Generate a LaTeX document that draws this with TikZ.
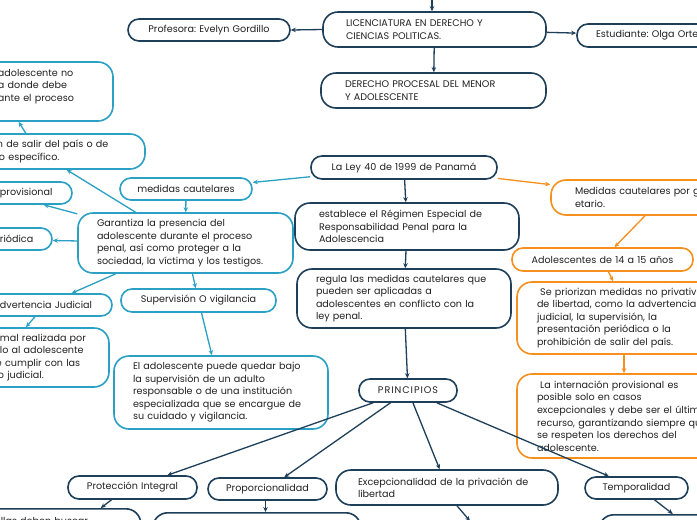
\documentclass[tikz,border=0pt]{standalone}
\usepackage{fontspec}
\setmainfont{Poppins}
\usetikzlibrary{arrows.meta,calc}
\definecolor{cnavy}{HTML}{1E3F5A}
\definecolor{cteal}{HTML}{2AA0C4}
\definecolor{corange}{HTML}{F5901E}
\definecolor{ctext}{HTML}{222222}
\newcommand{\fs}{\fontsize{9.6}{12.5}\selectfont\frenchspacing}
\tikzset{
  bx/.style={draw, rounded corners=11pt, line width=1.6pt, inner ysep=0pt, text=ctext, font=\fs, fill=white},
  tall/.style={rounded corners=15pt},
  nv/.style={bx, draw=cnavy},
  tl/.style={bx, draw=cteal},
  ob/.style={bx, draw=corange},
  arr/.style={-{Stealth[length=5pt,width=4.5pt]}, line width=1.3pt},
  arrnavy/.style={arr, draw=cnavy},
  arrteal/.style={arr, draw=cteal},
  arrorange/.style={arr, draw=corange},
}
\begin{document}
\begin{tikzpicture}[x=1pt,y=-1pt]
\useasboundingbox (0,0) rectangle (697,520);
\fill[white] (0,0) rectangle (697,520);
\clip (0,0) rectangle (697,520);

% navy top
\node[nv, tall, minimum width=223pt, minimum height=35pt, inner xsep=23pt, text width=177pt, align=left] (lic) at (434.5,29.5) {LICENCIATURA EN DERECHO Y\\CIENCIAS POLITICAS.};
\node[nv, minimum width=162pt, minimum height=22pt, inner xsep=8pt, text width=146pt, align=center] (prof) at (209,30) {Profesora: Evelyn Gordillo};
\node[nv, minimum width=190pt, minimum height=23pt, inner xsep=19pt, text width=152pt, align=left] (est) at (672,35.5) {Estudiante: Olga Ortega};
\node[nv, tall, minimum width=225pt, minimum height=35pt, inner xsep=24pt, text width=177pt, align=left] (der) at (433.5,90.5) {DERECHO PROCESAL DEL MENOR\\Y ADOLESCENTE};
\node[nv, minimum width=186pt, minimum height=23pt, inner xsep=8pt, text width=170pt, align=center] (ley) at (404,167.5) {La Ley 40 de 1999 de Panamá};
\node[nv, tall, minimum width=224pt, minimum height=47pt, inner xsep=24pt, text width=176pt, align=left] (esta) at (407,226.5) {establece el Régimen Especial de\\Responsabilidad Penal para la\\Adolescencia};
\node[nv, tall, minimum width=214pt, minimum height=59pt, inner xsep=19pt, text width=176pt, align=left] (reg) at (404,298.5) {regula las medidas cautelares que\\pueden ser aplicadas a\\adolescentes en conflicto con la\\ley penal.};
\node[nv, minimum width=98pt, minimum height=23pt, inner xsep=4pt, text width=90pt, align=center] (prin) at (408,390.5) {\addfontfeature{LetterSpace=10}PRINCIPIOS};

% teal
\node[tl, minimum width=132pt, minimum height=22pt, inner xsep=6pt, text width=120pt, align=center] (med) at (186,189) {medidas cautelares};
\node[tl, tall, minimum width=215pt, minimum height=60pt, inner xsep=19pt, text width=177pt, align=left] (gar) at (185.5,243) {Garantiza la presencia del\\adolescente durante el proceso\\penal, así como proteger a la\\sociedad, la víctima y los testigos.};
\node[tl, tall, minimum width=226pt, minimum height=59pt, inner xsep=20pt, text width=186pt, align=left] (top) at (0,91.5) {\hspace*{91pt}adolescente no\\\hspace*{91pt}a donde debe\\\hspace*{91pt}ante el proceso\\\mbox{}};
\node[tl, tall, minimum width=216pt, minimum height=35pt, inner xsep=20pt, text width=176pt, align=left] (salir) at (37,151.5) {\hspace*{48pt}n de salir del país o de\\\hspace*{50pt}o específico.};
\node[tl, minimum width=144pt, minimum height=22pt, inner xsep=4pt, text width=136pt, align=left] (prov) at (0,193) {\hspace*{68pt}provisional};
\node[tl, minimum width=157pt, minimum height=22pt, inner xsep=4pt, text width=149pt, align=left] (per) at (-26.5,239) {\hspace*{101pt}riódica};
\node[tl, minimum width=134pt, minimum height=22pt, inner xsep=4pt, text width=126pt, align=left] (adv) at (45,305) {\hspace*{18pt}dvertencia Judicial};
\node[tl, tall, minimum width=218pt, minimum height=59pt, inner xsep=8pt, text width=202pt, align=left] (mal) at (0,357.5) {\hspace*{101pt}mal realizada por\\\hspace*{101pt}lo al adolescente\\\hspace*{97pt}e cumplir con las\\\hspace*{99pt}o judicial.};
\node[tl, minimum width=155pt, minimum height=23pt, inner xsep=6pt, text width=143pt, align=center] (sup) at (198.5,300.5) {Supervisión O vigilancia};
\node[tl, tall, minimum width=214pt, minimum height=73pt, inner xsep=19pt, text width=176pt, align=left] (ado) at (221,392.5) {El adolescente puede quedar bajo\\la supervisión de un adulto\\responsable o de una institución\\especializada que se encargue de\\su cuidado y vigilancia.};

% orange
\node[ob, tall, minimum width=220pt, minimum height=35pt, inner xsep=24pt, text width=172pt, align=left] (omed) at (661,197.5) {Medidas cautelares por grupo\\etario.};
\node[ob, minimum width=181pt, minimum height=23pt, inner xsep=8pt, text width=165pt, align=center] (oado) at (602.5,259.5) {Adolescentes de 14 a 15 años};
\node[ob, tall, minimum width=228pt, minimum height=72pt, inner xsep=20pt, text width=188pt, align=left] (opri) at (631,318) {\ Se priorizan medidas no privativas\\de libertad, como la advertencia\\judicial, la supervisión, la\\presentación periódica o la\\prohibición de salir del país.};
\node[ob, tall, minimum width=228pt, minimum height=84pt, inner xsep=20pt, text width=188pt, align=left] (oint) at (631,416) {\ La internación provisional es\\posible solo en casos\\excepcionales y debe ser el último\\recurso, garantizando siempre que\\se respeten los derechos del\\adolescente.};

% principles
\node[nv, minimum width=129pt, minimum height=23pt, inner xsep=6pt, text width=117pt, align=center] (prot) at (132.5,487.5) {Protección Integral};
\node[nv, minimum width=119pt, minimum height=22pt, inner xsep=6pt, text width=107pt, align=center] (prop) at (267.5,489) {Proporcionalidad};
\node[nv, tall, minimum width=222pt, minimum height=35pt, inner xsep=22pt, text width=178pt, align=left] (exc) at (447,487.5) {Excepcionalidad de la privación de\\libertad};
\node[nv, minimum width=103pt, minimum height=22pt, inner xsep=6pt, text width=91pt, align=center] (temp) at (636.5,488) {Temporalidad};

% bottom boxes (cut by the border)
\node[nv, tall, anchor=north west, minimum width=230pt, inner xsep=10pt, inner ysep=9pt, text width=210pt, align=left] (bl) at (-90,508) {\hspace*{80pt}llas deben buscar\\\mbox{}\\\mbox{}\\\mbox{}};
\node[nv, tall, anchor=north west, minimum width=208pt, minimum height=60pt] (bp) at (152,512) {};
\node[nv, tall, anchor=north, minimum width=200pt, minimum height=50pt] (be) at (470,521) {};
\node[nv, tall, anchor=north west, minimum width=200pt, minimum height=60pt] (bt) at (598,514) {};

% connectors
\coordinate (topin) at (432,-12);
\draw[arrnavy] (topin) -- (topin |- lic.north);
\draw[arrnavy] (lic.west) -- (prof.east);
\draw[arrnavy] (lic) -- (est);
\draw[arrnavy] (lic) -- (der);
\draw[arrteal] (ley) -- (med);
\draw[arrnavy] (ley) -- (esta);
\draw[arrorange] (ley) -- (omed);
\draw[arrorange] ([xshift=-16pt]omed.south) -- ([xshift=12pt]oado.north);
\draw[arrorange] (oado) -- (opri);
\draw[arrorange] ([xshift=-7pt]opri.south) -- ([xshift=-7pt]oint.north);
\draw[arrteal] (med) -- (gar);
\draw[arrteal] (gar) -- (salir);
\draw[arrteal] (salir) -- (top);
\draw[arrteal] (gar) -- (prov);
\draw[arrteal] (gar) -- (per);
\draw[arrteal] (gar) -- (adv);
\draw[arrteal] (adv) -- (mal);
\draw[arrteal] (gar) -- (sup);
\draw[arrteal] (sup) -- (ado);
\draw[arrnavy] (esta) -- (reg);
\draw[arrnavy] (reg) -- (prin);
\draw[arrnavy] (prin) -- (prot);
\draw[arrnavy] (prin) -- (prop);
\draw[arrnavy] (prin) -- (exc);
\draw[arrnavy] (prin) -- (temp);
\draw[arrnavy] ([xshift=-21pt]prot.south) -- ([xshift=75pt]bl.north);
\draw[arrnavy] ([xshift=-2pt]prop.south) -- ([xshift=-2pt]prop.south |- bp.north);
\draw[arrnavy] ([xshift=10pt]exc.south) -- (be.north);
\draw[arrnavy] ([xshift=18pt]temp.south) -- ([xshift=-26pt]bt.north);
\end{tikzpicture}
\end{document}
